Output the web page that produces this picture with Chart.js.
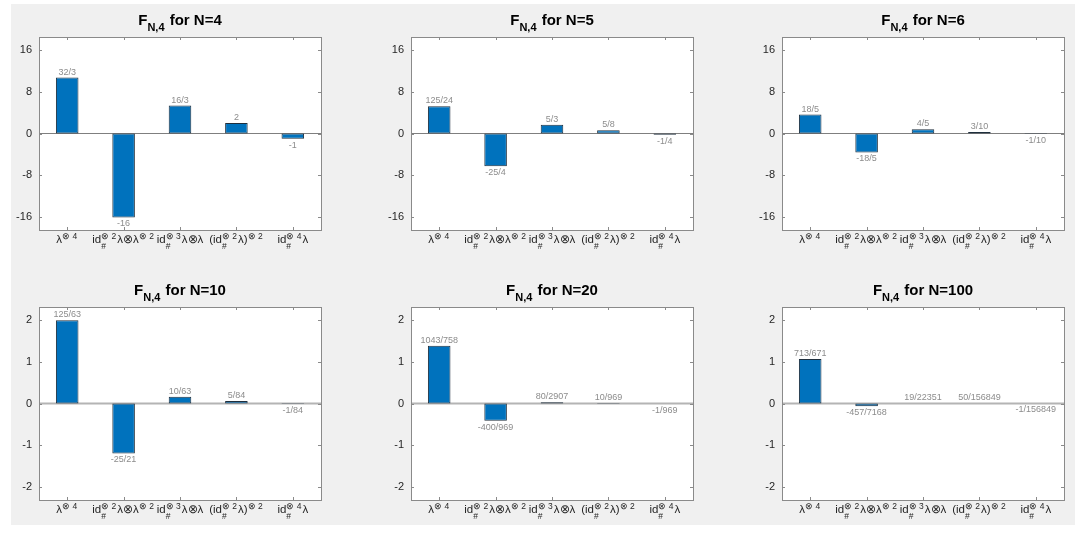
<!DOCTYPE html>
<html>
<head>
<meta charset="utf-8">
<script src="https://cdn.jsdelivr.net/npm/chart.js@4.4.1/dist/chart.umd.min.js"></script>
<style>
  body { margin: 0; background: #fff; width: 1075px; height: 533px; position: relative; overflow: hidden; }
  #bg { position: absolute; left: 11px; top: 4px; width: 1064px; height: 521px; background: #f0f0f0; }
  canvas { position: absolute; }
</style>
</head>
<body>
<div id="bg"></div>
<script>
// bar categories (TeX-ish markup: _x subscript, ^{..} superscript)
const categories = ['λ^{⊗ 4}', 'id_#^{⊗ 2}λ⊗λ^{⊗ 2}', 'id_#^{⊗ 3}λ⊗λ', '(id_#^{⊗ 2}λ)^{⊗ 2}', 'id_#^{⊗ 4}λ'];

const valuesN4 = [10.667, -16, 5.333, 2, -1];
const fracsN4 = ['32/3', '-16', '16/3', '2', '-1'];
const valuesN5 = [5.208, -6.25, 1.667, 0.625, -0.25];
const fracsN5 = ['125/24', '-25/4', '5/3', '5/8', '-1/4'];
const valuesN6 = [3.6, -3.6, 0.8, 0.3, -0.1];
const fracsN6 = ['18/5', '-18/5', '4/5', '3/10', '-1/10'];
const valuesN10 = [1.984, -1.190, 0.1587, 0.0595, -0.0119];
const fracsN10 = ['125/63', '-25/21', '10/63', '5/84', '-1/84'];
const valuesN20 = [1.376, -0.4128, 0.0275, 0.0103, -0.0010];
const fracsN20 = ['1043/758', '-400/969', '80/2907', '10/969', '-1/969'];
const valuesN100 = [1.0626, -0.0638, 0.00085, 0.00032, -0.0000064];
const fracsN100 = ['713/671', '-457/7168', '19/22351', '50/156849', '-1/156849'];

const topTicks = [-16, -8, 0, 8, 16];
const bottomTicks = [-2, -1, 0, 1, 2];

const FONT = '"Liberation Sans", Arial, Helvetica, sans-serif';
const colLeft = [39, 411, 782];
const rowTop = [37, 307];
const plotW = 282, plotH = 193;
const padL = 39, padT = 37, padR = 10, padB = 30;

const panels = [
  { n: 4, values: valuesN4, fracs: fracsN4, ticks: topTicks, lim: 18.4, col: 0, row: 0 },
  { n: 5, values: valuesN5, fracs: fracsN5, ticks: topTicks, lim: 18.4, col: 1, row: 0 },
  { n: 6, values: valuesN6, fracs: fracsN6, ticks: topTicks, lim: 18.4, col: 2, row: 0 },
  { n: 10, values: valuesN10, fracs: fracsN10, ticks: bottomTicks, lim: 2.3, col: 0, row: 1 },
  { n: 20, values: valuesN20, fracs: fracsN20, ticks: bottomTicks, lim: 2.3, col: 1, row: 1 },
  { n: 100, values: valuesN100, fracs: fracsN100, ticks: bottomTicks, lim: 2.3, col: 2, row: 1 },
];

function parseRich(s) {
  const runs = [];
  let i = 0, buf = '';
  const group = () => {
    if (s[i] === '{') {
      const j = s.indexOf('}', i);
      const g = s.slice(i + 1, j);
      i = j + 1;
      return g;
    }
    return s[i++];
  };
  while (i < s.length) {
    const c = s[i];
    if (c === '_' || c === '^') {
      if (buf) { runs.push({ t: buf }); buf = ''; }
      i++;
      const g = group();
      const run = c === '_' ? { sub: g } : { sup: g };
      if (c === '_' && s[i] === '^') { i++; run.sup = group(); }
      runs.push(run);
    } else {
      buf += c;
      i++;
    }
  }
  if (buf) runs.push({ t: buf });
  return runs;
}

function drawRich(ctx, s, cx, y, o) {
  const runs = parseRich(s);
  const main = `${o.weight} ${o.size}px ${FONT}`;
  const small = `${o.weight} ${o.small}px ${FONT}`;
  const width = r => {
    if (r.t) { ctx.font = main; return ctx.measureText(r.t).width; }
    ctx.font = small;
    const a = r.sub ? ctx.measureText(r.sub).width : 0;
    const b = r.sup ? ctx.measureText(r.sup).width : 0;
    return Math.max(a, b) + 1;
  };
  const total = runs.reduce((acc, r) => acc + width(r), 0);
  let x = cx - total / 2;
  ctx.fillStyle = o.color;
  ctx.textAlign = 'left';
  ctx.textBaseline = 'alphabetic';
  runs.forEach(r => {
    const rw = width(r);
    if (r.t) {
      ctx.font = main;
      ctx.fillText(r.t, x, y);
    } else {
      ctx.font = small;
      if (r.sup) ctx.fillText(r.sup, x, y - o.supDy);
      if (r.sub) ctx.fillText(r.sub, x, y + o.subDy);
    }
    x += rw;
  });
}

const panelPlugin = {
  id: 'panel',
  beforeDraw(chart) {
    const { ctx, chartArea: a } = chart;
    ctx.save();
    ctx.fillStyle = '#fff';
    ctx.fillRect(a.left, a.top, a.right - a.left, a.bottom - a.top);
    ctx.restore();
  },
  beforeDatasetsDraw(chart, args, opts) {
    const { ctx, chartArea: a, scales: { y } } = chart;
    const y0 = y.getPixelForValue(0);
    ctx.save();
    ctx.strokeStyle = opts.baseColor;
    ctx.lineWidth = opts.baseWidth;
    ctx.beginPath();
    ctx.moveTo(a.left, y0);
    ctx.lineTo(a.right, y0);
    ctx.stroke();
    ctx.restore();
  },
  afterDraw(chart, args, opts) {
    const { ctx, chartArea: a, scales: { x, y } } = chart;
    ctx.save();
    // axes box and inward ticks
    ctx.strokeStyle = '#8a8a8a';
    ctx.lineWidth = 1;
    ctx.strokeRect(Math.round(a.left) + 0.5, Math.round(a.top) + 0.5, Math.round(a.right - a.left), Math.round(a.bottom - a.top));
    ctx.beginPath();
    y.ticks.forEach(t => {
      const py = Math.round(y.getPixelForValue(t.value)) + 0.5;
      ctx.moveTo(a.left, py); ctx.lineTo(a.left + 3, py);
      ctx.moveTo(a.right, py); ctx.lineTo(a.right - 3, py);
    });
    categories.forEach((c, i) => {
      const px = Math.round(x.getPixelForValue(i)) + 0.5;
      ctx.moveTo(px, a.bottom); ctx.lineTo(px, a.bottom - 3);
      ctx.moveTo(px, a.top); ctx.lineTo(px, a.top + 3);
    });
    ctx.stroke();

    // value labels
    const meta = chart.getDatasetMeta(0);
    const y0 = y.getPixelForValue(0);
    ctx.font = `9px ${FONT}`;
    ctx.fillStyle = '#8c8c8c';
    ctx.textAlign = 'center';
    meta.data.forEach((bar, i) => {
      const v = chart.data.datasets[0].data[i];
      if (v >= 0) {
        ctx.textBaseline = 'bottom';
        ctx.fillText(opts.fracs[i], bar.x, Math.min(bar.y, y0) - 1);
      } else {
        ctx.textBaseline = 'top';
        ctx.fillText(opts.fracs[i], bar.x, Math.max(bar.y, y0) + 2);
      }
    });

    // category labels
    categories.forEach((c, i) => {
      drawRich(ctx, c, x.getPixelForValue(i), a.bottom + 13,
        { size: 11.5, small: 8.5, weight: 'normal', color: '#262626', supDy: 4, subDy: 6 });
    });

    // title
    drawRich(ctx, `F_{N,4} for N=${opts.n}`, (a.left + a.right) / 2, a.top - 12,
      { size: 15, small: 11, weight: 'bold', color: '#000', supDy: 5, subDy: 6 });
    ctx.restore();
  }
};

panels.forEach(p => {
  const cv = document.createElement('canvas');
  const w = padL + plotW + padR, h = padT + plotH + padB;
  cv.width = w; cv.height = h;
  cv.style.width = w + 'px'; cv.style.height = h + 'px';
  cv.style.left = (colLeft[p.col] - padL) + 'px';
  cv.style.top = (rowTop[p.row] - padT) + 'px';
  document.body.appendChild(cv);

  new Chart(cv.getContext('2d'), {
    type: 'bar',
    data: {
      labels: categories,
      datasets: [{
        data: p.values,
        backgroundColor: '#0072BD',
        borderColor: '#1f2f3d',
        borderWidth: 1,
        borderSkipped: false,
        barPercentage: 0.4,
        categoryPercentage: 1
      }]
    },
    options: {
      responsive: false,
      animation: false,
      devicePixelRatio: 1,
      layout: { padding: { top: padT, right: padR, left: 0, bottom: 0 } },
      plugins: {
        legend: { display: false },
        tooltip: { enabled: false },
        panel: {
          n: p.n,
          fracs: p.fracs,
          baseColor: p.row === 0 ? '#7f7f7f' : '#b4b4b4',
          baseWidth: p.row === 0 ? 1 : 2
        }
      },
      scales: {
        x: {
          offset: true,
          grid: { display: false, drawTicks: false },
          border: { display: false },
          ticks: { display: false },
          afterFit: s => { s.height = padB; }
        },
        y: {
          min: -p.lim,
          max: p.lim,
          grid: { display: false, drawTicks: false },
          border: { display: false },
          afterBuildTicks: s => { s.ticks = p.ticks.map(v => ({ value: v })); },
          ticks: {
            padding: 7,
            color: '#262626',
            font: { size: 11, family: FONT },
            callback: v => String(v)
          },
          afterFit: s => { s.width = padL; }
        }
      }
    },
    plugins: [panelPlugin]
  });
});
</script>
</body>
</html>
